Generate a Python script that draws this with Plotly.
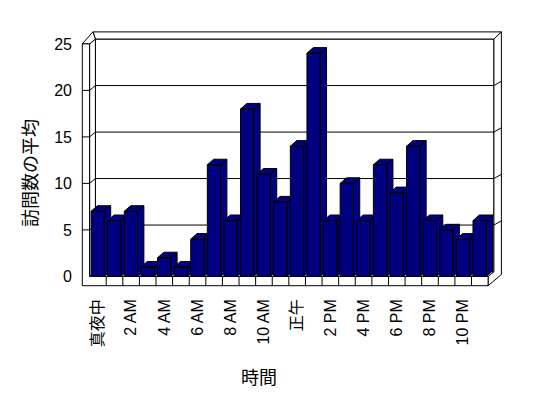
import plotly.graph_objects as go

# ---- data ----
hours = list(range(24))
avg_visits = [7, 6, 7, 1, 2, 1, 4, 12, 6, 18, 11, 8, 14, 24, 6, 10, 6, 12, 9, 14, 6, 5, 4, 6]
x_tick_positions = [0, 2, 4, 6, 8, 10, 12, 14, 16, 18, 20, 22]
x_tick_labels = ["真夜中", "2 AM", "4 AM", "6 AM", "8 AM", "10 AM", "正午",
                 "2 PM", "4 PM", "6 PM", "8 PM", "10 PM"]
y_tick_values = [0, 5, 10, 15, 20, 25]
y_title = "訪問数の平均"
x_title = "時間"

# ---- pseudo-3D geometry (data units) ----
YMAX = 25
XL = -0.5                 # inner front-left of floor
XR = len(hours) - 0.5     # front-right of floor
TW = 0.44                 # left wall thickness
DX, DY = 0.35, 0.52       # depth offset to back wall
TX, TY = 0.45, 0.77       # wall thickness offset
FT = 1.0                  # floor thickness
BAR_OFF, BAR_W = 0.09, 0.80
BDX, BDY = 0.38, 0.60     # bar depth

NAVY = "#000080"
FONT = "Liberation Sans, Noto Sans CJK JP, sans-serif"

fig = go.Figure()


def poly(xs, ys, fill="white"):
    fig.add_trace(go.Scatter(
        x=xs, y=ys, mode="lines", fill="toself", fillcolor=fill,
        line=dict(color="black", width=1), hoverinfo="skip", showlegend=False))


def segs(seglist):
    xs, ys = [], []
    for (x0, y0, x1, y1) in seglist:
        xs += [x0, x1, None]
        ys += [y0, y1, None]
    fig.add_trace(go.Scatter(
        x=xs, y=ys, mode="lines", line=dict(color="black", width=1),
        hoverinfo="skip", showlegend=False))


# back wall front face
poly([XL + DX, XR + DX, XR + DX, XL + DX, XL + DX],
     [DY, DY, YMAX + DY, YMAX + DY, DY])
# back wall top band
poly([XL + DX, XR + DX, XR + DX + TX, XL + DX - 0.15, XL + DX],
     [YMAX + DY, YMAX + DY, YMAX + DY + TY, YMAX + DY + TY, YMAX + DY])
# back wall right band + floor right side
poly([XR + DX, XR + DX + TX, XR + DX + TX, XR, XR, XR + DX, XR + DX],
     [YMAX + DY, YMAX + DY + TY, 0.2, -FT, 0, DY, YMAX + DY])
# floor top
poly([XL, XR, XR + DX, XL + DX, XL], [0, 0, DY, DY, 0])
# left wall inner side
poly([XL, XL + DX, XL + DX, XL, XL], [YMAX, YMAX + DY, DY, 0, YMAX])
# left wall top
poly([XL - TW, XL, XL + DX, XL + DX - 0.15, XL - TW],
     [YMAX, YMAX, YMAX + DY, YMAX + DY + TY, YMAX])
# left wall front + floor front (L shape)
poly([XL - TW, XL, XL, XR, XR, XL - TW, XL - TW],
     [YMAX, YMAX, 0, 0, -FT, -FT, YMAX])

# gridlines
grid = []
for v in y_tick_values[1:-1]:
    grid.append((XL - TW, v, XL, v))
    grid.append((XL, v, XL + DX, v + DY))
    grid.append((XL + DX, v + DY, XR + DX, v + DY))
    grid.append((XR + DX, v + DY, XR + DX + TX, v + DY + TY * 0.6))
# floor cell dividers
for k in range(1, len(hours)):
    grid.append((k - 0.5, -FT, k - 0.5, 0))
segs(grid)

# bars (front, side, top) drawn left to right
for h, v in zip(hours, avg_visits):
    x0 = h - 0.5 + BAR_OFF
    x1 = x0 + BAR_W
    xs = [x0, x1, x1, x0, x0, None,
          x1, x1 + BDX, x1 + BDX, x1, x1, None,
          x0, x1, x1 + BDX, x0 + BDX, x0]
    ys = [0, 0, v, v, 0, None,
          0, BDY, v + BDY, v, 0, None,
          v, v, v + BDY, v + BDY, v]
    fig.add_trace(go.Scatter(
        x=xs, y=ys, mode="lines", fill="toself", fillcolor=NAVY,
        line=dict(color="black", width=1), hoverinfo="skip", showlegend=False))

# page has an 8px body margin; figure is placed at (8, 8)
OFF = 8
L, R, T, B = 73 - OFF, 35, 16 - OFF, 103
W, H = 548 - OFF, 398 - OFF
pw, ph = W - L - R, H - T - B
plot_left = OFF + L
plot_bottom = OFF + T + ph

fig.update_layout(
    width=W, height=H,
    margin=dict(l=L, r=R, t=T, b=B),
    paper_bgcolor="white", plot_bgcolor="white",
    font=dict(family=FONT, size=16, color="black"),
    hovermode=False,
    xaxis=dict(range=[-1.5, 25], showgrid=False, zeroline=False, showline=False,
               tickmode="array", tickvals=x_tick_positions, ticktext=x_tick_labels,
               tickangle=-90, ticks="", tickfont=dict(size=16), fixedrange=True),
    yaxis=dict(range=[-2, 28], showgrid=False, zeroline=False, showline=False,
               tickmode="array", tickvals=y_tick_values, ticks="",
               tickfont=dict(size=16), fixedrange=True),
    annotations=[
        dict(text=y_title, xref="paper", yref="paper",
             x=(29 - plot_left) / pw, y=(plot_bottom - 173) / ph, textangle=-90,
             xanchor="center", yanchor="middle",
             showarrow=False, font=dict(size=18, family="Noto Sans CJK JP")),
        dict(text=x_title, xref="paper", yref="paper",
             x=(259 - plot_left) / pw, y=(plot_bottom - 376) / ph,
             xanchor="center", yanchor="middle",
             showarrow=False, font=dict(size=18, family="Noto Sans CJK JP")),
    ],
)

fig.write_html("out.html")
